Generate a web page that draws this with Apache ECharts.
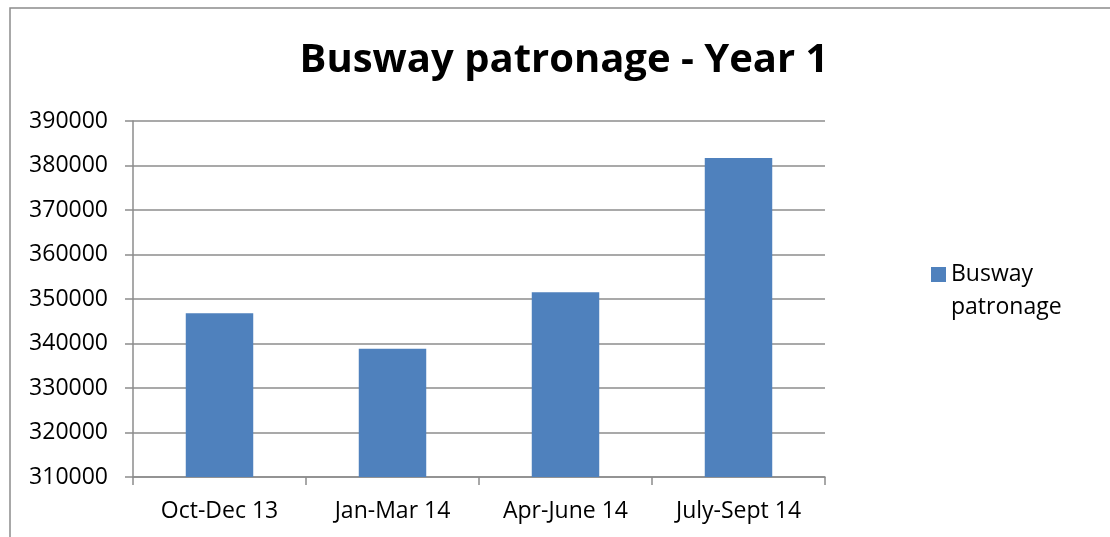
<!DOCTYPE html>
<html>
<head>
<meta charset="utf-8">
<script src="https://cdn.jsdelivr.net/npm/echarts@6/dist/echarts.min.js"></script>
<style>
  html, body { margin: 0; padding: 0; background: #fff; }
  #chart { width: 1110px; height: 537px; }
</style>
</head>
<body>
<div id="chart"></div>
<script>
var quarters = ['Oct-Dec 13', 'Jan-Mar 14', 'Apr-June 14', 'July-Sept 14'];
var patronage = [346800, 338800, 351500, 381700];
var seriesName = 'Busway patronage';
var yMin = 310000, yMax = 390000, yStep = 10000;

var chart = echarts.init(document.getElementById('chart'));

var option = {
    backgroundColor: '#fff',
    animation: false,
    title: {
        text: 'Busway patronage - Year 1',
        left: 559,
        textAlign: 'center',
        top: 36,
        textStyle: {
            fontFamily: 'Open Sans',
            fontWeight: 'bold',
            fontSize: 40,
            color: '#000'
        }
    },
    // outer chart frame, partly cut off at right and bottom
    graphic: [{
        type: 'rect',
        shape: { x: 10, y: 8, width: 1200, height: 600 },
        style: { fill: 'none', stroke: '#8c8c8c', lineWidth: 1.5 },
        silent: true
    }],
    legend: {
        left: 926,
        top: 220,
        orient: 'vertical',
        itemWidth: 15,
        itemHeight: 15,
        icon: 'rect',
        // empty first line keeps the marker level with "Busway"
        formatter: function () { return '\nBusway\npatronage'; },
        textStyle: {
            fontFamily: 'Open Sans',
            fontSize: 23,
            color: '#000',
            lineHeight: 33
        },
        data: [seriesName]
    },
    grid: {
        left: 133,
        right: 285,
        top: 121,
        bottom: 60,
        containLabel: false
    },
    xAxis: {
        type: 'category',
        data: quarters,
        axisLine: { lineStyle: { color: '#8c8c8c', width: 1.5 } },
        axisTick: { show: true, length: 8, lineStyle: { color: '#8c8c8c', width: 1.5 } },
        axisLabel: {
            fontFamily: 'Open Sans',
            fontSize: 23,
            color: '#000',
            margin: 23
        }
    },
    yAxis: {
        type: 'value',
        min: yMin,
        max: yMax,
        interval: yStep,
        axisLine: { show: true, lineStyle: { color: '#8c8c8c', width: 1.5 } },
        axisTick: { show: true, length: 8, lineStyle: { color: '#8c8c8c', width: 1.5 } },
        splitLine: { lineStyle: { color: '#8c8c8c', width: 1.5 } },
        axisLabel: {
            fontFamily: 'Open Sans',
            fontSize: 23,
            color: '#000',
            margin: 25,
            formatter: function (v) { return String(v); }
        }
    },
    series: [{
        name: seriesName,
        type: 'bar',
        data: patronage,
        barWidth: '39%',
        itemStyle: { color: '#4f81bd' }
    }]
};

chart.setOption(option);
</script>
</body>
</html>
